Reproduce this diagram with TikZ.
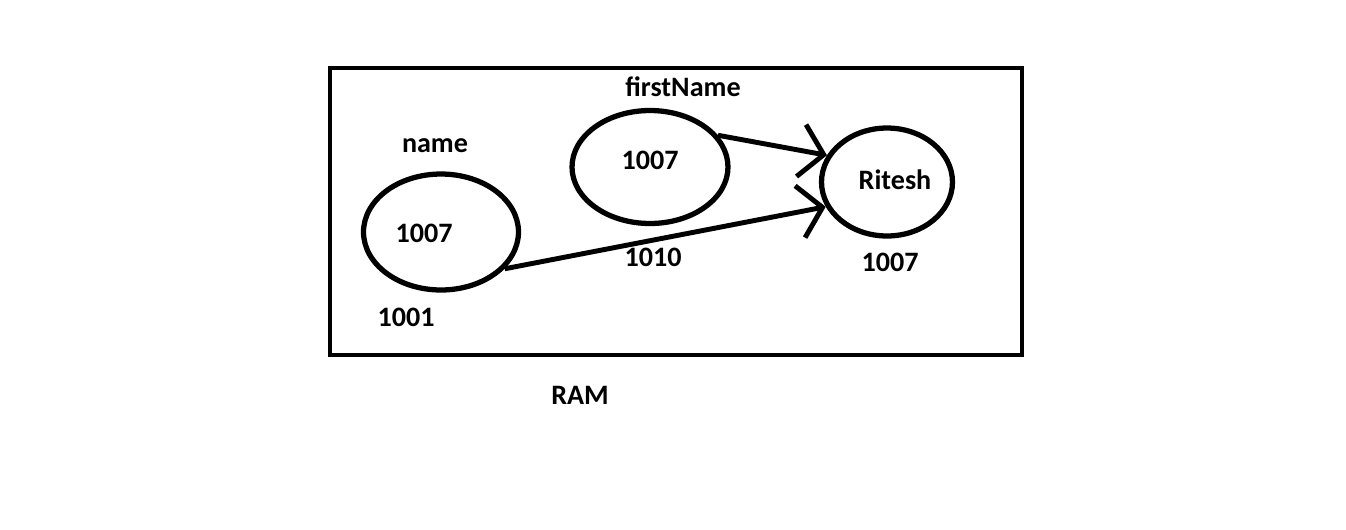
\documentclass[tikz,border=0pt]{standalone}
\usepackage{fontspec}
\setmainfont{Carlito}
\usetikzlibrary{shapes.geometric,arrows.meta}

\begin{document}
\begin{tikzpicture}[
    x=0.02cm, y=-0.02cm,
    cell/.style={ellipse, draw, line width=3pt, inner sep=0pt},
    lbl/.style={font=\fontsize{16}{18}\selectfont\bfseries},
    link/.style={-{Straight Barb[length=13pt, width=30pt]}, line width=2.8pt}
]
\useasboundingbox (0,0) rectangle (1346,529);
\draw[line width=2.4pt] (330,68) rectangle (1022,355);

\node[cell, minimum width=3.1cm, minimum height=2.32cm] (nameCell) at (441,232) {};
\node[cell, minimum width=3.12cm, minimum height=2.26cm] (fnCell) at (650,167) {};
\node[cell, minimum width=2.62cm, minimum height=2.16cm] (strCell) at (887,182) {};

\node[lbl] (nameLbl) at (435,146) {name};
\node[lbl] (nameVal) at (424,233) {1007};
\node[lbl] (nameAddr) at (406,317) {1001};
\node[lbl] (fnLbl) at (683,87) {firstName};
\node[lbl] (fnVal) at (650,160) {1007};
\node[lbl] (fnAddr) at (653,257) {1010};
\node[lbl] (strVal) at (895,180) {Ritesh};
\node[lbl] (strAddr) at (890,262) {1007};
\node[lbl] (ram) at (580,395) {RAM};

\draw[link] (fnCell.25) -- (strCell.156);
\draw[link] (nameCell.-30) -- (strCell.202);
\end{tikzpicture}
\end{document}
